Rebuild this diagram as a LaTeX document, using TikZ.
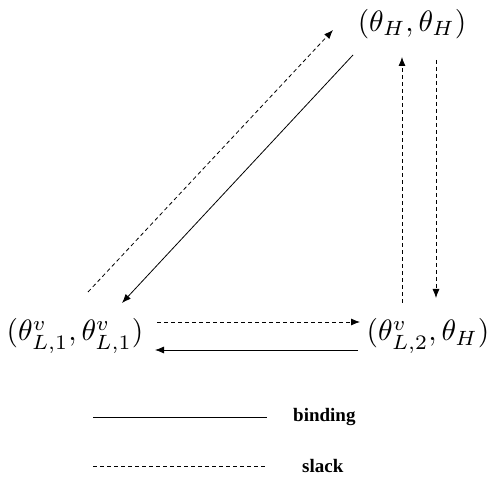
\documentclass[tikz,border=0pt]{standalone}
\usepackage{fontspec}
\newfontfamily\legendfont{Liberation Serif}
\usepackage{tikz}
\usetikzlibrary{arrows.meta}

\begin{document}
\begin{tikzpicture}[x=1pt, y=1pt,
  state/.style={inner sep=0pt, scale=2.95, transform shape},
  legendtext/.style={inner sep=0pt, font=\legendfont\bfseries\fontsize{19}{23}\selectfont},
  binding/.style={line width=0.8pt},
  slack/.style={line width=0.8pt, dash pattern=on 4pt off 3pt},
  tip/.style={-{Latex[length=9pt,width=7pt]}}]
\useasboundingbox (0,0) rectangle (496,482);
\node[state] (hh) at (412,458) {$(\theta_H,\theta_H)$};
\node[state] (ll) at (75,146) {$(\theta^v_{L,1},\theta^v_{L,1})$};
\node[state] (lh) at (428,146) {$(\theta^v_{L,2},\theta_H)$};
% low/low <-> high/high
\draw[slack, tip] ([shift={(13,44)}]ll.center) -- ([shift={(-79,-6)}]hh.center);
\draw[binding, tip] ([shift={(-59,-31)}]hh.center) -- ([shift={(47,33)}]ll.center);
% low/high <-> high/high
\draw[slack, tip] ([shift={(-26,33)}]lh.center) -- ([shift={(-10,-33)}]hh.center);
\draw[slack, tip] ([shift={(24,-36)}]hh.center) -- ([shift={(8,38)}]lh.center);
% low/low <-> low/high
\draw[slack, tip] ([shift={(82,14)}]ll.center) -- ([shift={(-68,14)}]lh.center);
\draw[binding, tip] ([shift={(-70,-14)}]lh.center) -- ([shift={(80,-14)}]ll.center);
% legend
\node[legendtext, anchor=west] (bindlbl) at (293,65) {binding};
\node[legendtext, anchor=west] (slacklbl) at (302,16) {slack};
\coordinate (bindstart) at (93,65);
\coordinate (slackstart) at (93,16);
\draw[binding] (bindstart) -- ([xshift=-26pt]bindlbl.west);
\draw[slack] (slackstart) -- ([xshift=-37pt]slacklbl.west);
\end{tikzpicture}
\end{document}
